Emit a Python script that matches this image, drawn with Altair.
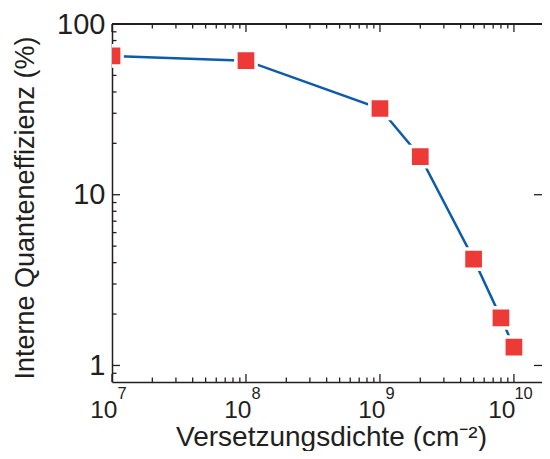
import altair as alt
import pandas as pd

# ---- data ----
DENSITY = [1e7, 1e8, 1e9, 2e9, 5e9, 8e9, 1e10]          # cm^-2
IQE = [65, 61, 32, 16.7, 4.2, 1.9, 1.28]                 # %

X_MAJOR = [1e7, 1e8, 1e9, 1e10]
X_EXP = ["7", "8", "9", "10"]
X_MINOR = [2e7, 3e7, 4e7, 5e7, 6e7, 7e7, 8e7, 9e7,
           2e8, 3e8, 4e8, 5e8, 6e8, 7e8, 8e8, 9e8,
           2e9, 3e9, 4e9, 5e9, 6e9, 7e9, 8e9, 9e9]
Y_MAJOR = [1, 10, 100]
Y_MINOR = [0.9, 2, 3, 4, 5, 6, 7, 8, 9, 20, 30, 40, 50, 60, 70, 80, 90]

X_TITLE = "Versetzungsdichte (cm⁻²)"
Y_TITLE = "Interne Quanteneffizienz (%)"

# ---- style ----
W, H = 430, 358
FONT = "Liberation Sans"
INK = "#231f20"
LINE_BLUE = "#0b5cad"
MARK_RED = "#ee3a36"
MAJ, MIN = 8, 4.5
FRAME_W = 1.5

xscale = alt.Scale(type="log", domain=[1e7, 1.62e10], nice=False)
yscale = alt.Scale(type="log", domain=[0.8, 100], nice=False)

series = pd.DataFrame({"x": DENSITY, "y": IQE})

x_axis = alt.Axis(
    values=X_MAJOR, labelExpr="'10'", labelFont=FONT, labelFontSize=24.5,
    labelColor=INK, labelAlign="right",
    labelOffset={"condition": {"test": "datum.value >= 1e10", "value": 1}, "value": 5},
    labelBaseline="alphabetic",
    labelPadding=35.5, labelFlush=False, labelOverlap=False,
    ticks=False, domain=True, domainColor=INK, domainWidth=FRAME_W, grid=False,
    title=X_TITLE, titleFont=FONT, titleFontSize=28, titleFontWeight="normal",
    titleColor=INK, titleX=W / 2 + 4, titleY=63, titleAlign="center",
    titleBaseline="alphabetic",
)
y_axis = alt.Axis(
    values=Y_MAJOR, format="d", labelFont=FONT, labelFontSize=29, labelColor=INK,
    labelPadding=7, labelOverlap=False, labelFlush=False,
    ticks=False, domain=True, domainColor=INK, domainWidth=FRAME_W, grid=False,
    title=Y_TITLE, titleFont=FONT, titleFontSize=27, titleFontWeight="normal",
    titleColor=INK, titleX=-79, titleY=183.5, titleAngle=270, titleAlign="center",
    titleBaseline="alphabetic",
)

def xenc(field):
    return alt.X(f"{field}:Q", scale=xscale, axis=x_axis)

def yenc(field):
    return alt.Y(f"{field}:Q", scale=yscale, axis=y_axis)

line = alt.Chart(series).mark_line(color=LINE_BLUE, strokeWidth=2.5, clip=True).encode(
    x=xenc("x"), y=yenc("y"),
)
points = alt.Chart(series).mark_point(
    shape="square", filled=True, fill=MARK_RED, opacity=1, size=408,
    stroke="white", strokeWidth=3.5, strokeOpacity=1, clip=True,
).encode(x=xenc("x"), y=yenc("y"))

tick_style = dict(color=INK, strokeWidth=1.3)

xmaj = pd.DataFrame({"v": X_MAJOR})
xmin = pd.DataFrame({"v": X_MINOR})
ymaj = pd.DataFrame({"v": Y_MAJOR})
ymin = pd.DataFrame({"v": Y_MINOR})

def xticks(df, length):
    bottom = alt.Chart(df).mark_rule(**tick_style).encode(
        x=xenc("v"), y=alt.value(H), y2=alt.value(H - length))
    top = alt.Chart(df).mark_rule(**tick_style).encode(
        x=xenc("v"), y=alt.value(0), y2=alt.value(length))
    return [bottom, top]

def yticks_left(df, length):
    return alt.Chart(df).mark_rule(**tick_style).encode(
        y=yenc("v"), x=alt.value(0), x2=alt.value(length))

y_right = alt.Chart(ymaj).mark_rule(**tick_style).encode(
    y=yenc("v"), x=alt.value(W), x2=alt.value(W - MAJ))

# top frame line (plot box border)
top_frame = alt.Chart(xmaj).mark_rule(color=INK, strokeWidth=FRAME_W).encode(
    x=alt.value(0), x2=alt.value(W), y=alt.value(0))

exp_df = pd.DataFrame({"v": X_MAJOR, "e": X_EXP})
exponents = alt.Chart(exp_df).mark_text(
    font=FONT, fontSize=16.5, color=INK, align="left", baseline="alphabetic",
    dx=alt.ExprRef(expr="datum.v >= 1e10 ? 0.5 : 5.5"),
).encode(
    x=xenc("v"),
    y=alt.value(H + 17),
    text="e:N",
)

layers = (xticks(xmaj, MAJ) + xticks(xmin, MIN)
          + [yticks_left(ymaj, MAJ), yticks_left(ymin, MIN), y_right, top_frame,
             line, points, exponents])

chart = alt.layer(*layers).properties(
    width=W, height=H,
    autosize=alt.AutoSizeParams(type="none"),
    padding={"left": 104, "top": 16, "right": 0, "bottom": 69},
).configure_view(stroke=None)

chart.save("out.html", embed_options={"renderer": "svg", "actions": False})
